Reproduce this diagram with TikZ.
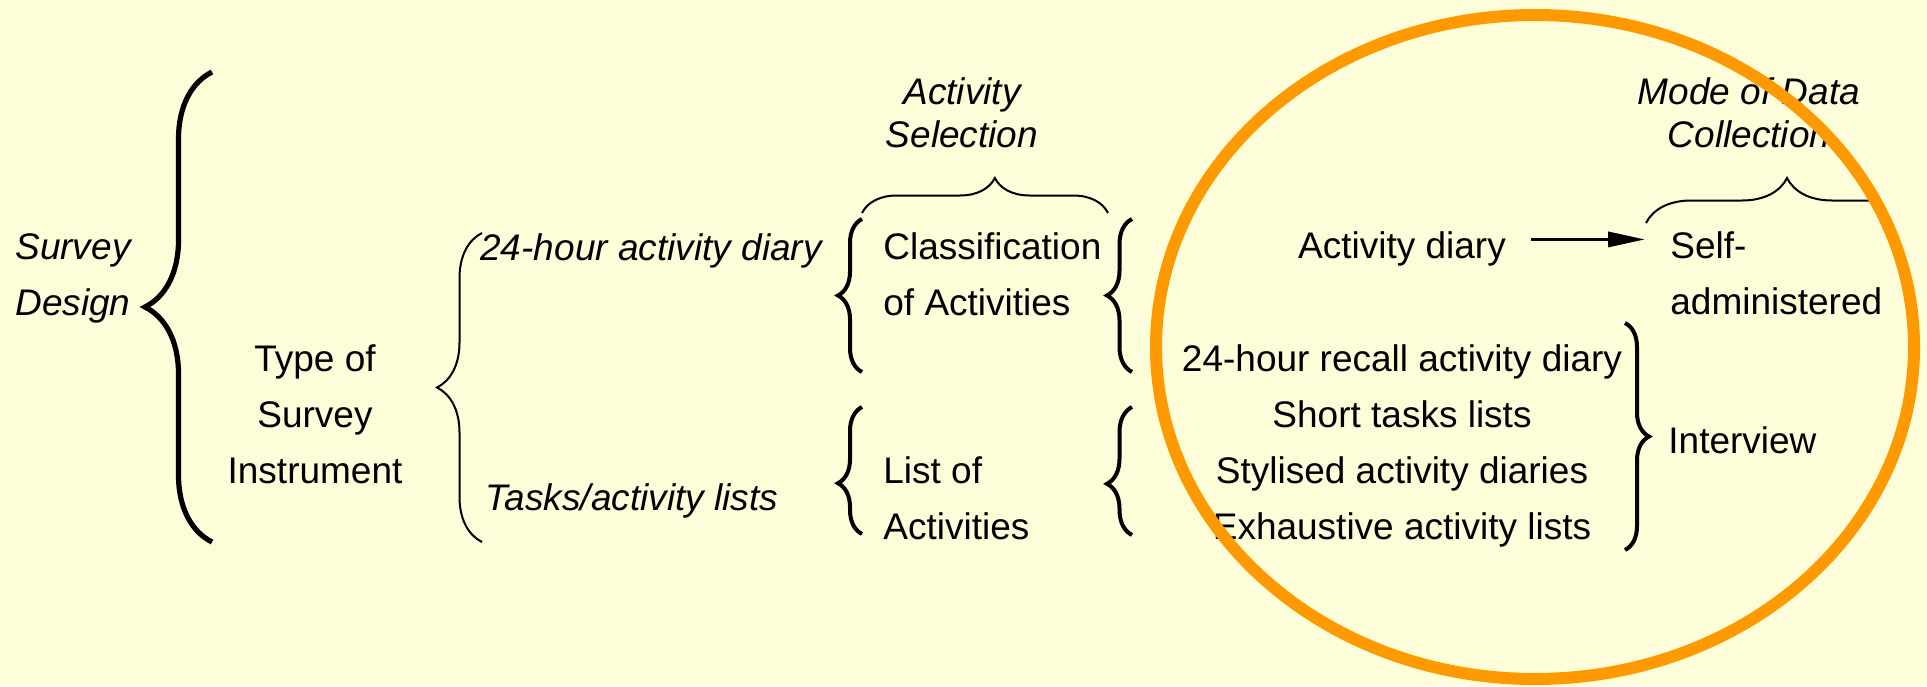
\documentclass[tikz,border=0pt]{standalone}
\usepackage{fontspec}
\setmainfont{Liberation Sans}
\usepackage{tikz}
\usetikzlibrary{decorations.pathreplacing,arrows.meta}
\definecolor{SlideBg}{RGB}{253,253,218}
\definecolor{RingOrange}{RGB}{255,153,0}
\tikzset{
  txt/.style={inner sep=0pt,font=\fontsize{18.5}{28}\selectfont,align=left},
  ctxt/.style={txt,align=center},
  ittxt/.style={txt,font=\fontsize{18.5}{28}\selectfont\itshape},
  hd/.style={inner sep=0pt,font=\fontsize{18.5}{21.5}\selectfont\itshape,align=center},
  brc/.style={decorate,decoration={brace,amplitude=#1}},
  bigbrace/.style={brc=33.5pt,line width=2.6pt},
  thinbrace/.style={brc=#1,line width=1pt},
  midbrace/.style={brc=12pt,line width=2pt},
  arr/.style={-{Triangle[length=18.5pt,width=7.5pt]},line width=1.7pt},
  ring/.style={draw=RingOrange,line width=6pt},
}

\begin{document}
\begin{tikzpicture}[x=0.5pt,y=-0.5pt]
    \fill[SlideBg] (0,0) rectangle (1927,686);
    \useasboundingbox (0,0) rectangle (1927,686);
    % brace end points
    \foreach \n/\x/\ya/\yb in {sd/212/542/72,ty/482/542/233,cl/862/372/219,cr/1132/372/219,
      ll/862/534/407,lr/1132/535/407,iv/1625/323/550} {
      \coordinate (\n-a) at (\x,\ya); \coordinate (\n-b) at (\x,\yb);}
    \coordinate (as-a) at (862,213); \coordinate (as-b) at (1108,213);
    \coordinate (md-a) at (1646,223); \coordinate (md-b) at (1928,223);
    % braces
    \draw[bigbrace] (sd-a) -- (sd-b);
    \draw[thinbrace=22.5pt] (ty-a) -- (ty-b);
    \draw[midbrace] (cl-a) -- (cl-b);
    \draw[midbrace,decoration={amplitude=12.5pt}] (cr-a) -- (cr-b);
    \draw[midbrace,decoration={aspect=0.4}] (ll-a) -- (ll-b);
    \draw[midbrace,decoration={amplitude=12.5pt,aspect=0.4}] (lr-a) -- (lr-b);
    \draw[midbrace] (iv-a) -- (iv-b);
    \draw[thinbrace=17.5pt,decoration={aspect=0.54}] (as-a) -- (as-b);
    \begin{scope}
      \clip (1600,150) rectangle (1878,240);
      \draw[thinbrace=22.5pt] (md-a) -- (md-b);
    \end{scope}
    % labels
    \node[ittxt,anchor=west] (design) at (15,278) {Survey\\Design};
    \node[ctxt] (instr) at (315,414) {Type of\\Survey\\Instrument};
    \node[ittxt,anchor=base west] (diary24) at (480,260) {24-hour activity diary};
    \node[ittxt,anchor=base west] (tasks) at (485,510) {Tasks/activity lists};
    \node[hd] (actsel) at (962,113) {Activity\\Selection};
    \node[txt,anchor=west] (classif) at (883,274.5) {Classification\\of Activities};
    \node[txt,anchor=west] (listact) at (883,498) {List of\\Activities};
    \node[txt,anchor=base] (actdiary) at (1402,258) {Activity diary};
    \node[ctxt] (items) at (1402,445.5) {24-hour recall activity diary\\Short tasks lists\\
      Stylised activity diaries\\Exhaustive activity lists};
    \node[hd] (modedc) at (1749,113) {Mode of Data\\Collection};
    \node[txt,anchor=west] (selfadm) at (1670,273) {Self-\\administered};
    \node[txt,anchor=base west] (interview) at (1668,453) {Interview};
    \draw[arr] ([shift={(25,-9)}]actdiary.east) -- ([shift={(-25,-9)}]actdiary.east -| selfadm.west);
    % highlight
    \draw[ring] (1535,347) ellipse [x radius=189.5pt,y radius=166pt];
  \end{tikzpicture}
\end{document}
